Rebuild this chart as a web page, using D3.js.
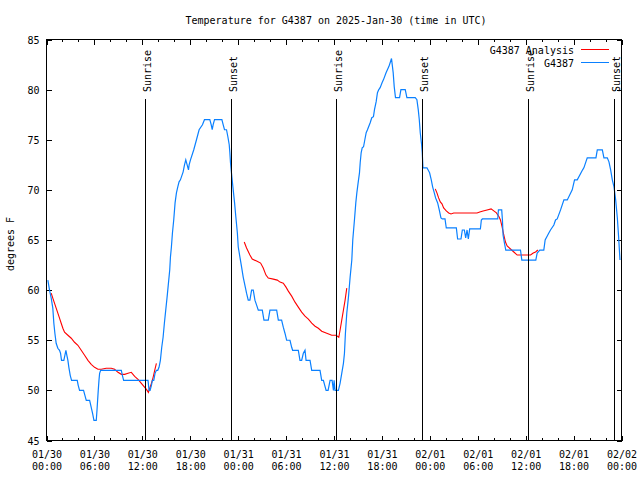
<!DOCTYPE html>
<html>
<head>
<meta charset="utf-8">
<script src="https://cdn.jsdelivr.net/npm/d3@7"></script>
<style>
  html, body { margin: 0; padding: 0; background: #fff; }
  svg text { font-family: "DejaVu Sans Mono", "Liberation Mono", monospace; font-size: 10px; fill: #000; }
</style>
</head>
<body>
<svg id="chart" width="640" height="480"></svg>
<script>
// ---- Data (hours since 2025-01-30 00:00 UTC, degrees F) ----
const titleText = "Temperature for G4387 on 2025-Jan-30 (time in UTC)";
const yLabelText = "degrees F";

const obsHours = [0.17,0.38,0.59,0.79,0.92,1.05,1.21,1.42,1.63,1.76,1.88,2.17,2.30,2.43,2.55,2.68,2.80,2.97,3.14,3.85,3.97,4.14,4.64,4.81,4.98,5.40,5.60,5.77,5.94,6.23,6.32,6.40,6.48,6.57,6.65,6.78,9.37,9.50,9.66,12.71,12.84,12.97,13.14,13.26,13.43,13.59,13.76,13.93,14.09,14.26,14.43,14.60,14.76,14.93,15.10,15.27,15.43,15.52,15.64,15.77,15.93,16.10,16.27,16.44,16.60,16.77,17.11,17.28,17.44,17.61,17.78,17.86,18.03,18.44,18.78,19.11,19.53,19.78,20.45,20.62,20.75,20.87,21.04,21.96,22.12,22.29,22.54,22.71,22.88,22.96,23.04,23.21,23.38,23.55,23.71,23.90,24.01,24.22,24.43,24.63,24.84,25.05,25.26,25.47,25.68,25.89,26.10,26.31,26.52,27.02,27.23,27.77,27.98,28.82,29.03,29.44,29.65,29.86,30.07,30.49,30.70,30.82,31.53,31.74,31.95,32.16,32.37,32.50,33.00,33.21,34.25,34.46,34.67,35.01,35.26,35.51,35.76,35.93,36.01,36.13,36.55,36.76,36.97,37.18,37.31,37.43,37.60,37.81,38.02,38.23,38.35,38.56,38.73,38.86,39.02,39.19,39.28,39.40,39.53,39.70,39.86,40.03,40.19,40.53,40.73,40.94,41.07,41.28,41.44,41.61,41.78,42.03,42.20,42.53,42.70,42.87,43.04,43.20,43.29,43.41,43.54,43.70,44.21,44.38,44.92,45.13,46.17,46.38,46.55,46.68,46.80,46.97,47.05,47.14,47.64,47.97,48.18,48.35,48.56,48.72,48.98,49.18,49.39,49.56,49.90,50.06,51.32,51.48,51.90,52.07,52.32,52.49,52.66,52.82,52.99,54.33,54.45,54.58,56.50,56.59,57.00,57.09,57.17,57.34,57.51,59.35,59.52,61.27,61.44,61.77,62.27,62.44,62.90,63.11,63.53,63.74,63.95,64.37,64.79,65.21,65.83,66.12,66.46,67.13,67.29,67.71,68.80,68.97,69.60,69.80,70.22,70.43,70.64,70.85,71.06,71.27,71.48,71.64,71.81];
const obsTemps = [61,60,59.2,58.2,56.7,55.7,54.7,54.2,54,53.7,53,53,53.5,54,53.5,53,52.3,51.5,51,51,50.5,50,50,49.5,49,49,48.3,47.7,47,47,48,49,50,51,51.7,52,52,51.5,51,51,50,50,50.5,51,51,51.7,52,52,52.3,53,54.3,55.3,56.7,58,59.3,60.7,62,63.3,64.3,65.7,67,68.7,69.7,70.3,70.8,71,71.8,72.5,73,72.5,72,72.5,73,74,75,76,76.5,77,77,76.5,76,76.5,77,77,76.5,76,76,75.3,74.5,73.7,72.7,71.3,70,68.7,67.3,65.7,64.3,63.3,62.3,61.3,60.5,59.7,59,59,60,60,59,58.5,58,58,57,57,58,58,57,57,56.3,55.7,55,55,54.3,54,54,53,53,53.7,54,53,53,52,52,51,51,50,50,51,51,50,51,50,50,50.7,51.7,52.7,53.7,55.7,57.7,59.3,61.3,63,65,67,68.7,69.7,70.7,71.7,72.7,73.7,74.2,74.3,75,75.7,76,76.7,77.2,77.3,78,78.8,79.7,80,80.2,80.7,81,81.7,82,82.3,82.7,83.1,82.5,81.7,80.3,79.2,79.2,80,80,79.2,79.2,79,78,77,75.7,74.5,73.7,72.2,72.2,71.7,71,70.3,69.7,69.2,68.7,68,67.2,67.1,67.1,66.2,66.2,65.1,65.1,66,66,65.2,66,65.1,66.1,66.1,67,67.1,67.1,68,68,67,65.5,64.7,64,64,63,63,63.7,64,64,65,65.7,66,66.5,67,67.1,68,69,69,70,71,71,72,72.2,73.2,73.2,74,74,73.2,73.2,72.8,72,71,70.3,69,67.2,65.3,63];

// Analysis series (null = gap)
const anaHours = [0.59,0.79,1.00,1.21,1.42,1.63,1.84,2.05,2.26,2.68,3.10,3.51,3.93,4.35,4.77,5.19,5.60,6.02,6.44,6.86,7.48,8.11,8.53,8.95,9.37,9.79,10.21,10.62,11.04,11.46,11.88,12.30,12.51,12.76,12.92,13.14,13.35,13.55,13.76,
  18.0,
  24.76,25.05,25.47,25.76,26.31,26.81,27.14,27.48,27.77,28.40,28.90,29.24,29.65,29.99,30.28,30.70,31.12,31.53,31.95,32.37,32.79,33.21,33.63,34.04,34.46,35.09,35.72,36.26,36.60,36.76,36.97,37.18,37.39,37.60,
  42.0,
  48.68,48.89,49.10,49.31,49.52,49.73,50.06,50.36,50.65,50.99,53.91,54.25,54.67,55.17,55.67,56.01,56.34,56.68,56.84,57.05,57.26,57.47,57.68,58.10,58.52,58.94,60.61,60.95,61.24,61.53];
const anaTemps = [59.7,59.2,58.7,58.2,57.7,57.2,56.7,56.2,55.8,55.5,55.2,54.8,54.5,54,53.5,53,52.6,52.3,52.1,52.1,52.2,52.2,52.1,51.8,51.6,51.6,51.7,51.8,51.4,51.1,50.7,50.3,50.1,49.8,50.2,50.7,51.3,52,52.7,
  null,
  64.8,64.2,63.5,63.1,62.9,62.7,62.2,61.5,61.2,61.1,61,60.8,60.7,60.3,59.9,59.4,58.8,58.3,57.8,57.4,57.1,56.7,56.4,56.2,55.9,55.7,55.5,55.5,55.3,56,57,58,59,60.2,
  null,
  70.1,69.7,69.2,68.8,68.6,68.2,67.9,67.7,67.6,67.7,67.7,67.8,67.9,68,68.1,67.9,67.7,67.3,67,66.3,65.5,64.8,64.4,64.1,63.8,63.5,63.5,63.7,63.8,64];

const sunLabels = ["Sunrise","Sunset","Sunrise","Sunset","Sunrise","Sunset"];
const sunHours  = [12.36, 23.04, 36.30, 47.06, 60.32, 71.04];

const seriesNames  = ["G4387 Analysis", "G4387"];
const seriesColors = ["#ff0000", "#0a80ff"];

const yTicks = [45,50,55,60,65,70,75,80,85];
const xMajorHours = [0,6,12,18,24,30,36,42,48,54,60,66,72];
const xMinorHours = [2,4,8,10,14,16,20,22,26,28,32,34,38,40,44,46,50,52,56,58,62,64,68,70];
const xTickDates = ["01/30","01/30","01/30","01/30","01/31","01/31","01/31","01/31","02/01","02/01","02/01","02/01","02/02"];
const xTickTimes = ["00:00","06:00","12:00","18:00","00:00","06:00","12:00","18:00","00:00","06:00","12:00","18:00","00:00"];

// ---- Chart ----
const base = Date.UTC(2025, 0, 30);
const toDate = h => new Date(base + h * 3600000);

const svg = d3.select("#chart");
const L = 46.5, R = 621.5, T = 39.5, B = 440.5;

const x = d3.scaleUtc().domain([toDate(0), toDate(72)]).range([L, R]);
const y = d3.scaleLinear().domain([45, 85]).range([B, T]);

// Title
svg.append("text").attr("x", 336).attr("y", 24).attr("text-anchor", "middle").text(titleText);

// Y label
svg.append("text")
  .attr("transform", "translate(14,244) rotate(-90)")
  .attr("text-anchor", "middle")
  .text(yLabelText);

function styleAxis(g) {
  g.select(".domain").remove();
  g.selectAll(".tick line").attr("stroke", "#000").attr("shape-rendering", "crispEdges");
  g.selectAll("text").style("font-family", "\"DejaVu Sans Mono\", monospace").style("font-size", "10px").attr("fill", "#000");
}

// Left axis with labels
svg.append("g").attr("transform", `translate(${L},0)`)
  .call(d3.axisLeft(y).tickValues(yTicks).tickSize(-5).tickPadding(7).tickFormat(d3.format("d")))
  .call(styleAxis)
  .call(g => g.selectAll("text").attr("dy", "0.35em"));
// Right mirror ticks
svg.append("g").attr("transform", `translate(${R},0)`)
  .call(d3.axisRight(y).tickValues(yTicks).tickSize(-5).tickFormat(""))
  .call(styleAxis);

// Bottom major with labels
const bottom = svg.append("g").attr("transform", `translate(0,${B})`)
  .call(d3.axisBottom(x).tickValues(xMajorHours.map(toDate)).tickSize(-5).tickPadding(0).tickFormat(""))
  .call(styleAxis);
bottom.selectAll(".tick").each(function(d, i) {
  const t = d3.select(this).append("text").attr("text-anchor", "middle").attr("fill", "#000");
  t.append("tspan").attr("x", 0).attr("y", 17).text(xTickDates[i]);
  t.append("tspan").attr("x", 0).attr("y", 29).text(xTickTimes[i]);
});
// Bottom minor
svg.append("g").attr("transform", `translate(0,${B})`)
  .call(d3.axisBottom(x).tickValues(xMinorHours.map(toDate)).tickSize(-2.5).tickFormat(""))
  .call(styleAxis);
// Top major/minor mirror
svg.append("g").attr("transform", `translate(0,${T})`)
  .call(d3.axisTop(x).tickValues(xMajorHours.map(toDate)).tickSize(-5).tickFormat(""))
  .call(styleAxis);
svg.append("g").attr("transform", `translate(0,${T})`)
  .call(d3.axisTop(x).tickValues(xMinorHours.map(toDate)).tickSize(-2.5).tickFormat(""))
  .call(styleAxis);

// Data lines
const anaData = anaHours.map((h, i) => ({ t: toDate(h), v: anaTemps[i] }));
const obsData = obsHours.map((h, i) => ({ t: toDate(h), v: obsTemps[i] }));
const line = d3.line().defined(d => d.v != null).x(d => x(d.t)).y(d => y(d.v));

svg.append("path").datum(anaData).attr("fill", "none")
  .attr("stroke", seriesColors[0]).attr("stroke-width", 1.1).attr("d", line);
svg.append("path").datum(obsData).attr("fill", "none")
  .attr("stroke", seriesColors[1]).attr("stroke-width", 1.2).attr("d", line);

// Sunrise / sunset markers
sunHours.forEach((h, i) => {
  const xp = Math.round(x(toDate(h))) + 0.5;
  svg.append("line").attr("x1", xp).attr("x2", xp).attr("y1", 99).attr("y2", B)
    .attr("stroke", "#000").attr("stroke-width", 1).attr("shape-rendering", "crispEdges");
  svg.append("text")
    .attr("transform", `translate(${xp + 5},92) rotate(-90)`)
    .attr("text-anchor", "start")
    .text(sunLabels[i]);
});

// Legend
seriesNames.forEach((name, i) => {
  const ly = 49.5 + i * 13;
  svg.append("text").attr("x", 574).attr("y", ly + 4).attr("text-anchor", "end").text(name);
  svg.append("line").attr("x1", 581).attr("x2", 609).attr("y1", ly).attr("y2", ly)
    .attr("stroke", seriesColors[i]).attr("stroke-width", 1).attr("shape-rendering", "crispEdges");
});

// Frame
svg.append("rect").attr("x", L).attr("y", T).attr("width", R - L).attr("height", B - T)
  .attr("fill", "none").attr("stroke", "#000").attr("stroke-width", 1).attr("shape-rendering", "crispEdges");
</script>
</body>
</html>
